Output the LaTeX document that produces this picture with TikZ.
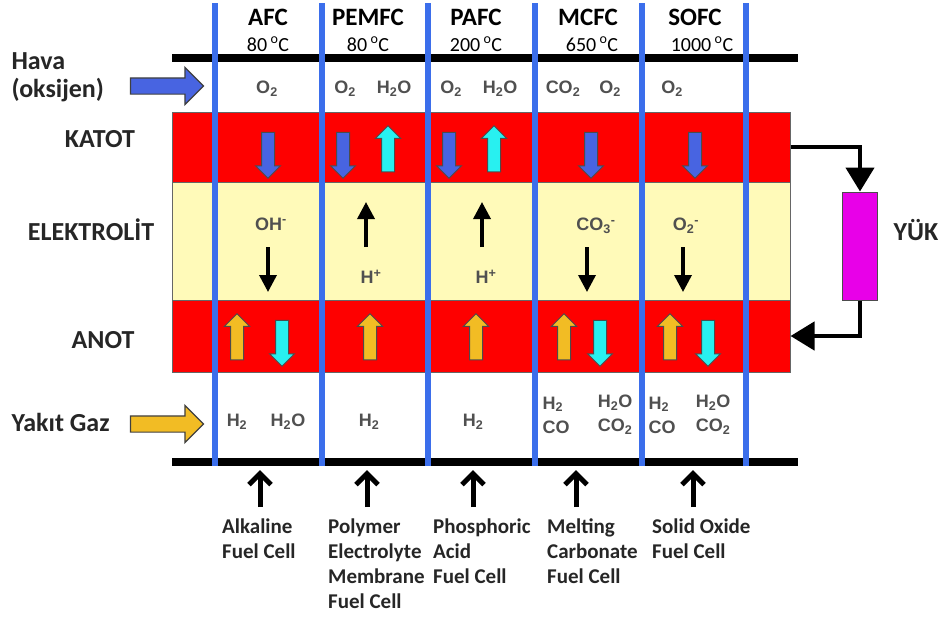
\documentclass[tikz,border=0pt]{standalone}
\usepackage{fontspec}
\setmainfont{Carlito}
\newfontfamily\chemfont{Liberation Sans}
\usetikzlibrary{shapes.arrows, arrows.meta, positioning}

\definecolor{bandred}{RGB}{254,0,0}
\definecolor{bandyellow}{RGB}{255,250,185}
\definecolor{sepblue}{RGB}{59,110,235}
\definecolor{airblue}{RGB}{72,100,225}
\definecolor{watercyan}{RGB}{40,240,240}
\definecolor{fuelgold}{RGB}{242,188,36}
\definecolor{loadpink}{RGB}{232,0,232}
\definecolor{chemgray}{RGB}{80,80,80}

\begin{document}
\begin{tikzpicture}[
    x=1pt, y=-1pt,
    header/.style={
        font=\bfseries\fontsize{25}{28}\selectfont
    },
    temp/.style={
        font=\fontsize{20}{22}\selectfont,
        inner sep=0pt
    },
    side/.style={
        font=\bfseries\fontsize{26}{28}\selectfont,
        text=black!85
    },
    chem/.style={
        font=\chemfont\bfseries\fontsize{18}{24}\selectfont,
        text=chemgray,
        align=left,
        inner sep=1pt
    },
    cellname/.style={
        font=\bfseries\fontsize{21}{25}\selectfont,
        text=black!85,
        align=left,
        inner sep=0pt,
        anchor=north west
    },
    band/.style={
        draw=black!60,
        line width=1pt,
        minimum width=618pt,
        inner sep=0pt
    },
    blockarrow/.style={
        single arrow,
        draw=black!70,
        line width=1pt,
        inner sep=6pt,
        single arrow head extend=6pt,
        minimum height=46pt
    },
    gasdown/.style={blockarrow, shape border rotate=270},
    gasup/.style={blockarrow, shape border rotate=90},
    inlet/.style={
        single arrow,
        draw=black!75,
        line width=1.2pt,
        inner xsep=0pt,
        inner ysep=7.5pt,
        single arrow head extend=10.5pt,
        minimum height=73pt
    },
    ion/.style={
        -{Triangle[width=17pt,length=17pt]},
        line width=3.5pt
    },
    feed/.style={
        -{Straight Barb[width=22pt,length=11pt]},
        line width=5pt
    },
    wire/.style={
        -{Triangle[width=28pt,length=24pt]},
        line width=4.5pt
    },
    rail/.style={line width=7.5pt},
    sep/.style={sepblue, line width=6.5pt}
]
\useasboundingbox (0,0) rectangle (942,625);

% Layers of the cell
\node[band, fill=bandred, minimum height=70pt] (katotband) at (481,147) {};
\node[band, fill=bandyellow, minimum height=118pt] (elekband) at (481,241) {};
\node[band, fill=bandred, minimum height=72pt] (anotband) at (481,336) {};

% Rails and separators
\draw[rail] (172,58) -- (798,58);
\draw[rail] (172,462) -- (798,462);
\foreach \x in {215,322,428,535,642,746}
    \draw[sep] (\x,3) -- (\x,466);

% Headers
\node[header] (afc) at (268,17) {AFC};
\node[header] (pemfc) at (368,17) {PEMFC};
\node[header] (pafc) at (476,17) {PAFC};
\node[header] (mcfc) at (588,17) {MCFC};
\node[header] (sofc) at (695,17) {SOFC};
\node[temp, below=8pt of afc] (afct) {80\,\textsuperscript{o}C};
\node[temp, below=8pt of pemfc] (pemfct) {80\,\textsuperscript{o}C};
\node[temp, below=8pt of pafc] (pafct) {200\,\textsuperscript{o}C};
\node[temp, below=8pt of mcfc, xshift=4pt] (mcfct) {650\,\textsuperscript{o}C};
\node[temp, below=8pt of sofc, xshift=7pt] (sofct) {1000\,\textsuperscript{o}C};

% Side labels
\node[side, align=left, anchor=west] (hava) at (8,77) {Hava\\(oksijen)};
\node[inlet, fill=airblue] (havain) at (163,86) {};
\node[side] (katot) at (100,139) {KATOT};
\node[side] (elektrolit) at (91,230) {ELEKTROL\.{I}T};
\node[side] (anot) at (103,340) {ANOT};
\node[side, anchor=west] (yakit) at (8,422) {Yakıt Gaz};
\node[inlet, fill=fuelgold] (yakitin) at (163,424) {};

% Air side gases
\node[chem] (o2afc) at (267,89) {O\textsubscript{2}};
\node[chem] (o2pem) at (345,89) {O\textsubscript{2}};
\node[chem] (h2opem) at (394,89) {H\textsubscript{2}O};
\node[chem] (o2pa) at (451,89) {O\textsubscript{2}};
\node[chem] (h2opa) at (500,89) {H\textsubscript{2}O};
\node[chem] (co2mc) at (563,89) {CO\textsubscript{2}};
\node[chem] (o2mc) at (610,89) {O\textsubscript{2}};
\node[chem] (o2so) at (672,89) {O\textsubscript{2}};

% Cathode flows
\node[gasdown, fill=airblue] (afck1) at (268,152) {};
\node[gasdown, fill=airblue] (pemk1) at (343,152) {};
\node[gasup, fill=watercyan] (pemk2) at (388,152) {};
\node[gasdown, fill=airblue] (pak1) at (449,152) {};
\node[gasup, fill=watercyan] (pak2) at (494,152) {};
\node[gasdown, fill=airblue] (mck1) at (591,152) {};
\node[gasdown, fill=airblue] (sok1) at (695,152) {};

% Ions in the electrolyte
\node[chem] (ohion) at (271,224) {OH\textsuperscript{-}};
\node[chem] (hpem) at (371,277) {H\textsuperscript{+}};
\node[chem] (hpa) at (486,277) {H\textsuperscript{+}};
\node[chem] (co3ion) at (596,226) {CO\textsubscript{3}\textsuperscript{-}};
\node[chem] (o2ion) at (686,226) {O\textsubscript{2}\textsuperscript{-}};
\draw[ion] (ohion) ++(-3,23) -- ++(0,45);
\draw[ion] (hpem) ++(-5,-30) -- ++(0,-45);
\draw[ion] (hpa) ++(-4,-30) -- ++(0,-45);
\draw[ion] (co3ion) ++(-9,21) -- ++(0,45);
\draw[ion] (o2ion) ++(-3,21) -- ++(0,45);

% Anode flows
\node[gasup, fill=fuelgold] (afca1) at (237,340) {};
\node[gasdown, fill=watercyan] (afca2) at (282,340) {};
\node[gasup, fill=fuelgold] (pema1) at (370,340) {};
\node[gasup, fill=fuelgold] (paa1) at (476,340) {};
\node[gasup, fill=fuelgold] (mca1) at (564,340) {};
\node[gasdown, fill=watercyan] (mca2) at (600,340) {};
\node[gasup, fill=fuelgold] (soa1) at (670,340) {};
\node[gasdown, fill=watercyan] (soa2) at (708,340) {};

% Fuel side gases
\node[chem] (h2afc) at (237,422) {H\textsubscript{2}};
\node[chem] (h2oafc) at (288,422) {H\textsubscript{2}O};
\node[chem] (h2pem) at (369,422) {H\textsubscript{2}};
\node[chem] (h2pa) at (473,422) {H\textsubscript{2}};
\node[chem] (fuelmc) at (556,415) {H\textsubscript{2}\\CO};
\node[chem] (exhmc) at (615,415) {H\textsubscript{2}O\\CO\textsubscript{2}};
\node[chem] (fuelso) at (662,415) {H\textsubscript{2}\\CO};
\node[chem] (exhso) at (713,415) {H\textsubscript{2}O\\CO\textsubscript{2}};

% Cell names
\node[cellname] (afcname) at (222,519) {Alkaline\\Fuel Cell};
\node[cellname] (pemname) at (328,519) {Polymer\\Electrolyte\\Membrane\\Fuel Cell};
\node[cellname] (paname) at (433,519) {Phosphoric\\Acid\\Fuel Cell};
\node[cellname] (mcname) at (547,519) {Melting\\Carbonate\\Fuel Cell};
\node[cellname] (soname) at (652,519) {Solid Oxide\\Fuel Cell};
\coordinate (afcin) at (260,470);
\coordinate (pemin) at (367,470);
\coordinate (pain) at (473,470);
\coordinate (mcin) at (576,470);
\coordinate (soin) at (693,470);
\foreach \c in {afcin,pemin,pain,mcin,soin}
    \draw[feed] (\c) ++(0,37) -- (\c);

% Load circuit
\node[draw=black!70, fill=loadpink, line width=1pt, minimum width=35pt, minimum height=108pt] (load) at (860,246) {};
\node[side] (yuk) at (916,230) {YÜK};
\draw[wire] (katotband.east) -| (load.north);
\draw[wire] (load.south) |- (anotband.east);

\end{tikzpicture}
\end{document}
